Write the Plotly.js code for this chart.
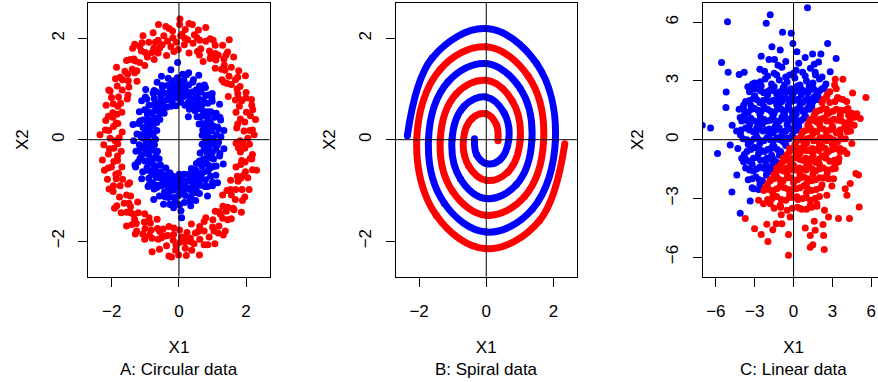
<!DOCTYPE html>
<html><head><meta charset="utf-8">
<script src="https://cdn.plot.ly/plotly-3.0.1.min.js"></script>
<style>html,body{margin:0;padding:0;overflow:hidden;background:#fff}#plot{width:890px;height:382px}</style>
</head><body><div id="plot"></div><script>
// ---------- Panel A: circular data (X1, X2 pairs) ----------
const circOuterRed = [
[2.05,0.03],[1.82,-0.02],[2.24,0.10],[1.94,0.17],[2.11,0.18],[1.72,0.23],[2.28,0.40],[1.96,0.35],[1.83,0.41],[2.13,0.47],[2.01,0.54],[1.70,0.54],[2.17,0.68],[1.80,0.66],[1.87,0.77],[1.99,0.82],[1.68,0.78],[2.00,0.93],[1.75,0.91],[1.47,0.85],[1.82,1.05],[1.98,1.26],[1.56,1.09],[1.68,1.18],[1.44,1.11],[1.78,1.36],[1.49,1.25],[1.56,1.43],[1.28,1.18],[1.63,1.63],[1.35,1.47],[1.27,1.39],[1.40,1.67],[1.34,1.59],[1.08,1.41],[1.30,1.86],[1.10,1.57],[1.08,1.70],[1.08,1.86],[0.93,1.60],[1.02,1.96],[0.91,1.75],[0.72,1.54],[0.80,1.94],[0.80,2.21],[0.65,1.79],[0.62,1.96],[0.55,1.74],[0.58,2.16],[0.42,1.90],[0.46,2.07],[0.30,1.71],[0.30,2.29],[0.26,1.97],[0.16,1.87],[0.19,2.17],[0.09,2.08],[1.50,1.97],
[-0.02,1.78],[0.02,2.27],[0.03,2.38],[-0.08,1.92],[-0.18,2.01],[-0.19,2.14],[-0.24,1.83],[-0.29,2.19],[-0.34,1.94],[-0.37,1.66],[-0.45,2.05],[-0.61,2.27],[-0.57,1.81],[-0.62,1.96],[-0.62,1.71],[-0.77,2.11],[-0.75,1.80],[-0.90,1.92],[-0.74,1.58],[-1.07,2.05],[-1.00,1.72],[-0.94,1.63],[-1.17,1.84],[-1.12,1.75],[-1.02,1.46],[-1.38,1.80],[-1.17,1.52],[-1.30,1.55],[-1.45,1.58],[-1.25,1.36],[-1.56,1.56],[-1.39,1.39],[-1.25,1.15],[-1.61,1.35],[-1.86,1.43],[-1.51,1.16],[-1.68,1.18],[-1.49,1.04],[-1.89,1.20],[-1.69,0.98],[-1.84,1.06],[-1.54,0.80],[-2.09,0.98],[-1.80,0.84],[-1.74,0.72],[-2.01,0.83],[-1.96,0.71],[-1.70,0.54],[-2.17,0.68],[-1.85,0.50],[-1.97,0.44],[-2.10,0.46],[-1.82,0.32],[-2.18,0.38],[-1.95,0.26],[-1.69,0.15],[-2.09,0.18],[-2.35,0.10],
[-1.90,-0.02],[-2.05,0.03],[-1.82,-0.08],[-2.24,-0.10],[-1.94,-0.17],[-2.10,-0.28],[-1.72,-0.23],[-2.28,-0.40],[-1.94,-0.43],[-1.83,-0.41],[-2.11,-0.56],[-2.01,-0.54],[-1.70,-0.54],[-2.13,-0.78],[-1.80,-0.66],[-1.87,-0.77],[-1.95,-0.91],[-1.68,-0.78],[-1.96,-1.02],[-1.75,-0.91],[-1.47,-0.85],[-1.77,-1.13],[-1.92,-1.35],[-1.56,-1.09],[-1.63,-1.25],[-1.44,-1.11],[-1.72,-1.44],[-1.44,-1.32],[-1.56,-1.43],[-1.23,-1.23],[-1.56,-1.70],[-1.35,-1.47],[-1.21,-1.44],[-1.40,-1.67],[-1.27,-1.65],[-1.02,-1.46],[-1.30,-1.86],[-1.03,-1.62],[-1.01,-1.75],[-1.08,-1.86],[-0.85,-1.64],[-1.02,-1.96],[-0.83,-1.78],[-0.65,-1.57],[-0.80,-1.94],[-0.80,-2.21],[-0.57,-1.81],[-0.62,-1.96],[-0.47,-1.76],[-0.58,-2.16],[-0.42,-1.90],[-0.37,-2.09],[-0.30,-1.71],[-0.30,-2.29],[-0.17,-1.98],[-0.16,-1.87],[-0.10,-2.18],[-0.09,-2.08],[-0.22,-2.31],
[0.02,-1.78],[-0.01,-2.27],[0.22,-2.28],[0.08,-1.92],[0.18,-2.01],[0.19,-2.14],[0.24,-1.83],[0.38,-2.18],[0.34,-1.94],[0.37,-1.66],[0.45,-2.05],[0.61,-2.27],[0.57,-1.81],[0.62,-1.96],[0.62,-1.71],[0.86,-2.07],[0.75,-1.80],[0.90,-1.92],[0.80,-1.54],[1.07,-2.05],[1.00,-1.72],[1.01,-1.58],[1.17,-1.84],[1.19,-1.70],[1.08,-1.41],[1.38,-1.80],[1.23,-1.47],[1.30,-1.55],[1.45,-1.58],[1.31,-1.31],[1.56,-1.56],[1.45,-1.33],[1.30,-1.09],[1.61,-1.35],[1.86,-1.43],[1.56,-1.09],[1.68,-1.18],[1.53,-0.98],[1.89,-1.20],[1.69,-0.98],[1.88,-0.98],[1.54,-0.80],[2.09,-0.98],[1.84,-0.76],[1.74,-0.72],[2.05,-0.75],[1.98,-0.63],[1.70,-0.54],[2.19,-0.59],[1.87,-0.41],[1.97,-0.44],[2.12,-0.37],[1.83,-0.24],[2.19,-0.29],[1.96,-0.17],[1.70,-0.07],[2.10,-0.09],[2.31,-0.60],
[1.90,-0.06],[2.19,0.19],[1.75,0.31],[2.20,0.59],[2.16,0.79],[1.77,0.82],[1.73,1.00],[1.75,1.23],[1.34,1.13],[1.37,1.37],[1.45,1.73],[1.17,1.67],[0.95,1.65],[0.93,1.99],[0.61,1.67],[0.54,2.01],[0.40,2.27],[0.17,2.00],[0.05,2.05],
[-0.15,1.74],[-0.39,2.23],[-0.50,1.87],[-0.70,1.92],[-0.80,1.72],[-1.10,1.91],[-1.32,1.88],[-1.34,1.59],[-1.32,1.32],[-1.53,1.29],[-1.75,1.23],[-1.52,0.88],[-2.05,0.96],[-1.82,0.66],[-1.97,0.53],[-1.87,0.33],[-2.19,0.19],[-1.78,0.04],
[-2.07,-0.18],[-1.83,-0.32],[-2.22,-0.60],[-1.88,-0.68],[-2.08,-0.97],[-1.52,-0.88],[-1.85,-1.30],[-1.49,-1.25],[-1.44,-1.44],[-1.32,-1.57],[-1.26,-1.80],[-0.89,-1.54],[-0.88,-1.88],[-0.64,-1.75],[-0.52,-1.93],[-0.33,-1.89],[-0.15,-1.74],[0.03,-2.02],
[0.17,-1.93],[0.35,-2.01],[0.49,-1.84],[0.75,-2.07],[0.75,-1.61],[1.04,-1.80],[1.32,-1.88],[1.20,-1.42],[1.41,-1.41],[1.64,-1.38],[1.43,-1.00],[1.96,-1.13],[1.76,-0.82],[1.92,-0.70],[1.84,-0.49],[2.17,-0.38],[1.77,-0.16]
];
const circInnerBlue = [
[1.02,0.02],[0.78,-0.03],[1.25,0.06],[0.92,0.04],[1.12,0.10],[0.69,0.09],[1.34,0.18],[0.97,0.17],[0.85,0.15],[1.15,0.25],[1.02,0.27],[0.71,0.19],[1.24,0.39],[0.86,0.27],[0.94,0.34],[1.06,0.44],[0.76,0.31],[1.11,0.52],[0.86,0.40],[0.60,0.31],[0.95,0.55],[1.21,0.70],[0.74,0.47],[0.86,0.55],[0.64,0.45],[0.99,0.76],[0.73,0.56],[0.86,0.72],[0.54,0.45],[0.99,0.91],[0.69,0.69],[0.61,0.61],[0.80,0.87],[0.72,0.78],[0.48,0.57],[0.79,1.03],[0.55,0.71],[0.57,0.82],[0.66,0.94],[0.44,0.69],[0.61,1.06],[0.48,0.82],[0.31,0.60],[0.51,0.98],[0.59,1.27],[0.34,0.81],[0.39,0.94],[0.27,0.73],[0.43,1.18],[0.28,0.88],[0.29,1.08],[0.18,0.68],[0.29,1.32],[0.21,0.96],[0.15,0.85],[0.15,1.17],[0.14,1.05],[0.06,0.74],[0.11,1.29],[0.04,0.90],[0.28,0.45],
[-0.02,1.00],[0.01,1.15],[-0.04,0.82],[-0.05,1.22],[-0.08,0.95],[-0.09,0.67],[-0.14,1.09],[-0.24,1.38],[-0.15,0.87],[-0.22,1.00],[-0.20,0.75],[-0.32,1.21],[-0.28,0.88],[-0.34,1.07],[-0.24,0.66],[-0.52,1.25],[-0.38,0.91],[-0.36,0.78],[-0.50,1.07],[-0.49,0.94],[-0.37,0.64],[-0.65,1.13],[-0.48,0.76],[-0.54,0.84],[-0.66,0.94],[-0.50,0.65],[-0.74,0.97],[-0.61,0.73],[-0.44,0.52],[-0.74,0.81],[-0.99,0.99],[-0.62,0.62],[-0.75,0.69],[-0.57,0.53],[-0.96,0.80],[-0.73,0.56],[-0.89,0.68],[-0.57,0.40],[-1.11,0.77],[-0.83,0.53],[-0.74,0.43],[-1.02,0.59],[-0.94,0.49],[-0.66,0.34],[-1.18,0.55],[-0.83,0.34],[-0.92,0.38],[-1.08,0.39],[-0.77,0.28],[-1.16,0.37],[-0.92,0.25],[-0.66,0.18],[-1.07,0.24],[-1.37,0.30],[-0.87,0.15],[-1.01,0.13],[-0.77,0.10],[-1.25,0.11],[-0.92,0.08],[-1.12,0.05],[-0.04,1.52],
[-0.70,0.01],[-1.35,-0.02],[-0.98,-0.04],[-0.86,-0.04],[-1.18,-0.10],[-1.05,-0.14],[-0.73,-0.10],[-1.28,-0.23],[-0.89,-0.16],[-0.98,-0.22],[-1.11,-0.30],[-0.79,-0.21],[-1.16,-0.37],[-0.91,-0.29],[-0.64,-0.23],[-1.02,-0.42],[-1.29,-0.54],[-0.80,-0.37],[-0.92,-0.43],[-0.69,-0.36],[-1.08,-0.63],[-0.80,-0.46],[-0.94,-0.60],[-0.59,-0.38],[-1.11,-0.77],[-0.78,-0.60],[-0.68,-0.52],[-0.90,-0.76],[-0.81,-0.68],[-0.55,-0.50],[-0.92,-0.92],[-0.64,-0.64],[-0.68,-0.74],[-0.78,-0.85],[-0.53,-0.63],[-0.74,-0.97],[-0.58,-0.75],[-0.39,-0.56],[-0.63,-0.90],[-0.75,-1.18],[-0.44,-0.76],[-0.51,-0.88],[-0.36,-0.69],[-0.58,-1.11],[-0.39,-0.83],[-0.43,-1.03],[-0.27,-0.65],[-0.46,-1.27],[-0.34,-0.92],[-0.26,-0.82],[-0.31,-1.14],[-0.27,-1.02],[-0.16,-0.72],[-0.28,-1.27],[-0.16,-0.89],[-0.13,-0.99],[-0.15,-1.14],[-0.07,-0.82],[-0.11,-1.22],[-0.04,-0.95],[-0.16,-1.34],[-1.31,-0.50],
[0.01,-0.68],[-0.01,-1.10],[0.06,-1.40],[0.04,-0.88],[0.09,-1.02],[0.10,-0.77],[0.16,-1.24],[0.16,-0.91],[0.19,-1.10],[0.15,-0.68],[0.35,-1.30],[0.25,-0.95],[0.26,-0.82],[0.36,-1.13],[0.36,-1.00],[0.28,-0.68],[0.50,-1.20],[0.38,-0.82],[0.42,-0.91],[0.53,-1.02],[0.41,-0.71],[0.61,-1.06],[0.51,-0.80],[0.37,-0.57],[0.63,-0.90],[0.85,-1.11],[0.54,-0.70],[0.66,-0.78],[0.50,-0.60],[0.85,-0.92],[0.65,-0.65],[0.79,-0.79],[0.52,-0.47],[1.00,-0.91],[0.75,-0.63],[0.68,-0.52],[0.94,-0.72],[0.87,-0.61],[0.61,-0.42],[1.10,-0.70],[0.78,-0.45],[0.87,-0.50],[1.02,-0.53],[0.73,-0.38],[1.11,-0.52],[0.88,-0.36],[0.63,-0.26],[1.03,-0.38],[1.32,-0.48],[0.84,-0.26],[0.99,-0.26],[0.75,-0.20],[1.22,-0.27],[0.90,-0.20],[1.10,-0.19],[0.69,-0.09],[1.34,-0.18],[0.98,-0.09],[0.86,-0.07],[1.18,-0.05],[0.08,-1.54],[1.15,-0.85],
[1.05,-0.08],[0.80,0.07],[1.18,0.21],[0.92,0.25],[1.22,0.44],[0.68,0.32],[0.87,0.50],[0.74,0.52],[0.98,0.82],[0.88,0.88],[0.55,0.65],[0.76,1.08],[0.53,0.91],[0.34,0.72],[0.41,1.13],[0.25,0.92],[0.23,1.28],[0.09,1.00],
[-0.03,1.10],[-0.08,0.90],[-0.21,1.16],[-0.26,0.97],[-0.29,0.80],[-0.49,1.04],[-0.53,0.91],[-0.46,0.66],[-0.77,0.92],[-0.67,0.67],[-1.00,0.84],[-0.61,0.43],[-0.95,0.55],[-0.82,0.38],[-0.94,0.34],[-1.21,0.32],[-0.84,0.15],[-1.15,0.10],[-1.05,0.03],
[-0.80,-0.07],[-1.18,-0.21],[-0.92,-0.25],[-1.22,-0.44],[-0.68,-0.32],[-0.95,-0.55],[-0.74,-0.52],[-0.77,-0.64],[-0.88,-0.88],[-0.55,-0.65],[-0.66,-0.94],[-0.53,-0.91],[-0.34,-0.72],[-0.41,-1.13],[-0.25,-0.92],[-0.23,-1.28],[-0.07,-0.75],
[0.02,-1.28],[0.08,-0.90],[0.17,-0.98],[0.32,-1.21],[0.29,-0.80],[0.49,-1.04],[0.53,-0.91],[0.46,-0.66],[0.77,-0.92],[0.67,-0.67],[1.00,-0.84],[0.61,-0.43],[0.95,-0.55],[0.82,-0.38],[0.94,-0.34],[1.21,-0.32],[0.84,-0.15],[1.15,-0.10]
];

// ---------- Panel B: spiral data (curve vertices) ----------
const spiralBlue = [
[-0.35,0.02],[-0.29,-0.29],[0,-0.47],[0.40,-0.40],[0.67,0],[0.53,0.53],[0,0.84],[-0.66,0.66],[-1.02,0],[-0.77,-0.77],[0,-1.16],[0.89,-0.89],[1.36,0],[1.01,1.01],[0,1.50],[-1.14,1.14],[-1.72,0],[-1.25,-1.25],[0,-1.82],[1.37,-1.37],[2.06,0],[1.50,1.50],[0,2.19],[-1.61,1.61],[-2.35,0.08]
];
const spiralRed = [
[0.35,-0.02],[0.30,0.30],[0,0.51],[-0.42,0.42],[-0.68,0],[-0.52,-0.52],[0,-0.80],[0.64,-0.64],[1.01,0],[0.77,0.77],[0,1.17],[-0.90,0.90],[-1.37,0],[-1.01,-1.01],[0,-1.49],[1.13,-1.13],[1.71,0],[1.25,1.25],[0,1.83],[-1.38,1.38],[-2.07,0],[-1.49,-1.49],[0,-2.15],[1.59,-1.59],[2.34,-0.08]
];

// ---------- Panel C: linear data ----------
const linBlue = [
[1.08,6.74],[-1.80,6.38],[-5.10,6.03],[-2.11,5.95],[-0.85,5.49],[-0.18,5.44],[-0.05,4.92],[2.63,4.92],[-1.67,4.75],[-1.03,4.58],[0.26,4.50],[-2.50,4.27],[1.47,4.38],[2.11,4.38],[3.29,4.15],[-5.56,3.95],[1.93,3.97],[-1.47,4.10],[-5.05,3.45],[-4.20,3.33],[-3.81,3.45],[-2.24,3.50],[2.83,3.47],[1.67,3.45],[-3.53,2.70],[-3.17,2.84],[-5.20,2.44],[-2.57,2.96],[2.37,2.67],[-5.22,1.64],[-3.86,1.76],[-6.41,0.60],[-4.74,0.74],[-4.12,1.13],[-7.05,0.74],[-5.87,-0.70],[-4.76,-2.67],[-4.12,-3.76],[-3.35,-3.13],[-4.38,-1.81],[-3.86,-1.13],[-4.89,-0.27],[-3.09,-2.50],
[-1.9,4.1],[-1.2,3.8],[-0.6,4.0],[0.4,3.9],[0.9,4.2],[1.6,3.85],
[-2.6,3.6],[-1.5,3.4],[-0.9,3.7],[-0.3,3.3],[0.2,3.55],[0.7,3.45],[1.3,3.65],[2.2,3.2],
[-3.0,2.9],[-2.2,3.1],[-1.7,2.85],[-1.1,3.05],[-0.5,2.95],[0.1,3.15],[0.5,2.8],[1.0,3.0],[1.5,2.9],[2.0,3.1],[2.5,2.85],
[-3.4,2.45],[-2.8,2.6],[-2.3,2.4],[-1.8,2.55],[-1.3,2.35],[-0.8,2.65],[-0.4,2.5],[0.0,2.4],[0.4,2.6],[0.9,2.45],[1.3,2.55],[1.8,2.35],[2.2,2.6],
[-3.7,1.95],[-3.1,2.1],[-2.6,1.9],[-2.1,2.05],[-1.6,2.0],[-1.1,1.85],[-0.7,2.15],[-0.2,1.95],[0.3,2.05],[0.7,1.9],[1.1,2.1],[1.5,1.95],[1.9,2.05],
[-4.2,1.55],[-3.5,1.4],[-3.0,1.6],[-2.5,1.45],[-2.0,1.55],[-1.5,1.35],[-1.0,1.6],[-0.6,1.5],[-0.1,1.4],[0.3,1.55],[0.7,1.45],[1.1,1.6],[1.4,1.75],
[-4.0,0.95],[-3.3,1.1],[-2.8,0.9],[-2.3,1.05],[-1.8,1.0],[-1.3,0.85],[-0.9,1.15],[-0.4,0.95],[0.0,1.05],[0.4,0.9],[0.8,1.1],
[-4.4,0.45],[-3.7,0.6],[-3.1,0.4],[-2.6,0.55],[-2.1,0.5],[-1.6,0.35],[-1.1,0.6],[-0.6,0.45],[-0.2,0.55],[0.25,0.5],
[-3.9,0.05],[-3.3,-0.1],[-2.8,0.1],[-2.3,-0.05],[-1.8,0.0],[-1.3,0.1],[-0.8,-0.1],[-0.35,0.05],
[-4.3,-0.45],[-3.6,-0.6],[-3.0,-0.4],[-2.5,-0.55],[-2.0,-0.5],[-1.5,-0.35],[-1.0,-0.6],
[-4.0,-0.95],[-3.4,-1.1],[-2.8,-0.9],[-2.3,-1.05],[-1.8,-1.0],[-1.3,-1.15],
[-3.7,-1.45],[-3.1,-1.6],[-2.6,-1.4],[-2.1,-1.55],[-1.7,-1.5],
[-3.5,-2.05],[-2.9,-1.9],[-2.4,-2.1],[-3.2,-2.45],[-2.7,-2.55],
[-2.5,2.75],[-1.5,2.7],[-0.7,2.8],[0.3,2.75],[1.2,2.7],
[-3.0,2.25],[-2.0,2.3],[-1.0,2.2],[-0.1,2.25],[0.6,2.3],[1.6,2.2],
[-3.3,1.75],[-2.3,1.7],[-1.3,1.8],[-0.4,1.75],[0.5,1.8],[1.2,1.7],
[-3.8,1.25],[-2.6,1.3],[-1.6,1.2],[-0.7,1.25],[0.2,1.3],[0.9,1.2],
[-3.4,0.75],[-2.4,0.8],[-1.4,0.7],[-0.5,0.75],[0.1,0.8],
[-4.1,0.25],[-2.9,0.3],[-1.9,0.2],[-0.9,0.25],[-0.1,0.2],
[-3.5,-0.25],[-2.6,-0.2],[-1.6,-0.3],[-0.6,-0.25],
[-3.8,-0.75],[-2.7,-0.7],[-1.7,-0.8],[-1.0,-0.75],
[-3.2,-1.25],[-2.1,-1.3],[-1.5,-1.2],
[-2.6,-2.3],[-2.1,-1.8],[-1.6,-1.3],[-1.1,-0.8],[-0.6,-0.3],[-0.1,0.2],[0.4,0.7],[0.9,1.2],[1.4,1.7],[1.9,2.2],[2.3,2.6],
[-2.0,3.25],[-1.3,3.3],[-0.6,3.2],[0.0,3.4],[0.9,3.25],[1.7,3.3],
[-3.1,2.6],[-2.55,2.5],[-2.05,2.45],[-1.55,2.5],[-1.05,2.45],[-0.6,2.4],[-0.2,2.6],[0.2,2.5],[0.65,2.55],[1.1,2.4],[1.55,2.6],[2.0,2.5],
[-3.4,2.0],[-2.85,2.05],[-2.35,2.0],[-1.85,1.95],[-1.35,2.05],[-0.9,1.95],[-0.45,2.05],[0.05,2.0],[0.5,1.95],[0.9,2.0],[1.3,1.9],[1.7,2.05],
[-3.8,1.5],[-3.25,1.55],[-2.75,1.5],[-2.25,1.6],[-1.75,1.45],[-1.25,1.55],[-0.8,1.45],[-0.35,1.6],[0.1,1.5],[0.5,1.6],[0.9,1.5],[1.25,1.55],
[-3.65,1.0],[-3.05,0.95],[-2.55,1.1],[-2.05,0.95],[-1.55,1.05],[-1.1,0.95],[-0.65,1.05],[-0.2,1.1],[0.2,1.0],[0.6,1.0],
[-4.05,0.5],[-3.4,0.5],[-2.85,0.6],[-2.35,0.45],[-1.85,0.55],[-1.35,0.5],[-0.85,0.4],[-0.4,0.6],[0.05,0.45],
[-3.6,0.0],[-3.05,0.05],[-2.55,-0.05],[-2.05,0.1],[-1.55,-0.05],[-1.05,0.0],[-0.55,0.1],
[-3.3,-0.5],[-2.75,-0.45],[-2.25,-0.6],[-1.75,-0.45],[-1.25,-0.5],
[-3.7,-1.0],[-3.1,-0.95],[-2.55,-1.05],[-2.05,-0.95],[-1.55,-1.0],
[-3.4,-1.55],[-2.85,-1.5],[-2.35,-1.45],[-1.9,-1.65],
[-3.2,-2.0],[-2.65,-2.05]
];
const linRed = [
[3.22,3.09],[3.81,3.09],[3.17,2.79],[4.56,2.39],[5.59,2.15],[3.40,2.15],[4.89,1.33],[5.15,1.08],[3.60,1.25],[4.68,0.74],[4.25,1.25],
[-3.73,-4.03],[-3.01,-4.55],[-2.50,-4.84],[-1.98,-5.20],[-2.06,-4.32],[-1.60,-4.60],[-1.34,-4.29],[-0.90,-4.29],[-0.39,-4.85],[-0.39,-5.91],[-0.95,-3.83],[1.29,-5.49],[1.49,-5.37],[2.37,-5.61],[1.29,-4.89],[0.90,-4.51],[1.60,-4.17],[2.32,-4.89],[2.27,-4.33],[1.67,-4.63],[3.47,-4.03],[4.32,-4.03],[2.70,-3.95],[5.07,-3.44],[2.39,-3.61],[4.12,-2.84],[3.99,-2.50],[4.38,-2.24],[4.81,-1.73],[5.02,-1.81],[3.22,-1.47],[3.47,-1.13],[3.60,-0.62],[4.12,-0.70],[4.50,-0.19],[1.80,-3.27],[1.29,-3.35],[0.51,-3.52],[0.26,-2.92],[-0.26,-3.95],[-1.03,-3.35],[-1.80,-3.27],[-2.32,-3.27],[-2.70,-3.10],[2.57,-2.84],[2.96,-2.36],[3.09,-2.00],
[2.8,2.45],[3.3,2.6],
[2.3,2.05],[2.8,1.9],[3.5,2.1],[4.1,1.95],
[1.8,1.45],[2.3,1.6],[2.8,1.4],[3.3,1.55],[3.9,1.5],[4.5,1.35],
[1.3,1.05],[1.8,0.9],[2.3,1.1],[2.8,0.95],[3.4,1.0],[4.0,0.85],[4.7,1.15],
[0.8,0.45],[1.3,0.6],[1.8,0.4],[2.3,0.55],[2.8,0.5],[3.3,0.35],[3.9,0.6],[4.4,0.45],
[0.3,0.05],[0.8,-0.1],[1.3,0.1],[1.8,-0.05],[2.3,0.0],[2.8,0.1],[3.4,-0.1],[4.0,0.05],
[-0.3,-0.45],[0.2,-0.6],[0.7,-0.4],[1.2,-0.55],[1.7,-0.5],[2.2,-0.35],[2.7,-0.6],[3.3,-0.45],[3.9,-0.55],
[-0.8,-0.95],[-0.3,-1.1],[0.2,-0.9],[0.7,-1.05],[1.2,-1.0],[1.7,-1.15],[2.2,-0.85],[2.8,-1.1],[3.5,-0.95],
[-1.3,-1.45],[-0.8,-1.6],[-0.3,-1.4],[0.2,-1.55],[0.7,-1.5],[1.2,-1.35],[1.7,-1.6],[2.3,-1.45],[3.0,-1.5],
[-1.8,-2.05],[-1.3,-1.9],[-0.8,-2.1],[-0.2,-1.95],[0.3,-2.05],[0.8,-1.9],[1.4,-2.1],[2.0,-1.95],[2.7,-2.0],
[-2.2,-2.45],[-1.6,-2.6],[-1.0,-2.4],[-0.4,-2.55],[0.2,-2.5],[0.8,-2.35],[1.4,-2.6],[2.1,-2.45],
[-2.0,-3.05],[-1.3,-2.9],[-0.6,-3.1],[0.0,-2.95],[0.7,-3.0],[1.3,-3.1],[2.0,-2.9],
[-1.5,-3.5],[-0.5,-3.6],[0.3,-3.45],[1.0,-3.55],[1.8,-3.4],
[1.6,1.25],[2.6,1.3],[3.6,1.2],
[1.1,0.75],[2.0,0.8],[3.0,0.7],[4.2,0.75],
[0.6,0.25],[1.5,0.3],[2.5,0.2],[3.6,0.25],
[0.1,-0.25],[1.0,-0.2],[2.0,-0.3],[3.0,-0.25],
[-0.5,-0.75],[0.5,-0.7],[1.5,-0.8],[2.5,-0.75],
[-1.0,-1.25],[0.0,-1.3],[1.0,-1.2],[2.0,-1.25],[3.2,-1.3],
[-1.5,-1.75],[-0.5,-1.7],[0.5,-1.8],[1.5,-1.75],[2.6,-1.7],
[-2.0,-2.25],[-1.0,-2.3],[0.0,-2.2],[1.0,-2.25],[2.2,-2.3],
[-1.6,-2.75],[-0.3,-2.8],[1.0,-2.7],
[-2.3,-2.6],[-1.8,-2.1],[-1.3,-1.6],[-0.8,-1.1],[-0.3,-0.6],[0.2,-0.1],[0.7,0.4],[1.2,0.9],[1.7,1.4],[2.2,1.9],[2.6,2.3],
[2.55,2.2],[3.2,1.95],[3.8,2.05],
[2.05,1.5],[2.55,1.55],[3.05,1.45],[3.6,1.5],[4.2,1.6],
[1.55,1.0],[2.05,1.05],[2.55,0.95],[3.1,1.05],[3.7,0.95],[4.35,1.0],
[1.05,0.5],[1.55,0.45],[2.05,0.6],[2.55,0.45],[3.05,0.55],[3.6,0.5],[4.15,0.4],
[0.55,0.0],[1.05,0.05],[1.55,-0.05],[2.05,0.1],[2.55,-0.05],[3.1,0.0],[3.7,0.05],
[-0.05,-0.5],[0.45,-0.45],[0.95,-0.55],[1.45,-0.45],[1.95,-0.55],[2.45,-0.45],[3.0,-0.5],[3.6,-0.45],
[-0.55,-1.0],[-0.05,-0.95],[0.45,-1.0],[0.95,-0.95],[1.45,-1.05],[1.95,-1.0],[2.5,-0.95],[3.15,-1.05],
[-1.05,-1.5],[-0.55,-1.45],[-0.05,-1.55],[0.45,-1.45],[0.95,-1.55],[1.45,-1.5],[2.0,-1.5],[2.65,-1.55],
[-1.55,-2.0],[-1.05,-2.05],[-0.5,-1.95],[0.05,-2.1],[0.55,-1.95],[1.1,-2.0],[1.7,-2.05],[2.35,-1.95],
[-1.9,-2.55],[-1.3,-2.5],[-0.7,-2.45],[-0.1,-2.55],[0.5,-2.45],[1.1,-2.5],[1.75,-2.55],
[-1.65,-3.0],[-0.95,-3.05],[-0.3,-2.95],[0.35,-3.05],[1.0,-2.95],[1.65,-3.0],
[-1.0,-3.45],[-0.1,-3.5],[0.65,-3.55],[1.4,-3.45]
];

// ---------- axes / labels ----------
const ticksAB = [-2, 0, 2];
const ticksC = [-6, -3, 0, 3, 6];
const rangeAB = [-2.7, 2.7];
const rangeC = [-7, 7];
const subtitles = ['A: Circular data', 'B: Spiral data', 'C: Linear data'];
const xTitle = 'X1', yTitle = 'X2';

const RED = '#FF0000', BLUE = '#0000FF';
const FONT = 'Liberation Sans, Arial, Helvetica, sans-serif';
const FS = 17;
const W = 890, H = 382;

function pts(arr, color, xa, ya) {
  return {type:'scatter', mode:'markers', x:arr.map(p=>p[0]), y:arr.map(p=>p[1]),
    xaxis:xa, yaxis:ya, marker:{color:color, size:7, line:{width:0}}, hoverinfo:'skip', showlegend:false};
}
function curve(arr, color, xa, ya) {
  return {type:'scatter', mode:'lines+markers', x:arr.map(p=>p[0]), y:arr.map(p=>p[1]),
    xaxis:xa, yaxis:ya, line:{color:color, width:7, shape:'spline', smoothing:1.1},
    marker:{color:color, size:7, line:{width:0}}, hoverinfo:'skip', showlegend:false};
}

const data = [
  pts(circOuterRed, RED, 'x', 'y'),
  pts(circInnerBlue, BLUE, 'x', 'y'),
  curve(spiralBlue, BLUE, 'x2', 'y2'),
  curve(spiralRed, RED, 'x2', 'y2'),
  pts(linBlue, BLUE, 'x3', 'y3'),
  pts(linRed, RED, 'x3', 'y3')
];

const left0 = 88.3, pw = 181.3, step = 307.3;
const yDom = [(H - 276.7) / H, (H - 2.7) / H];
const fmt = t => t < 0 ? '\u2212' + Math.abs(t) : String(t);

function xAxis(i, range, ticks) {
  const l = left0 + i * step;
  return {domain:[l / W, (l + pw) / W], range:range, tickvals:ticks, ticktext:ticks.map(fmt),
    ticks:'outside', ticklen:9, tickwidth:1, tickcolor:'#000', showline:true, mirror:true, linecolor:'#000', linewidth:1,
    showgrid:false, zeroline:false, fixedrange:true, ticklabelstandoff:10,
    tickfont:{family:FONT, size:FS, color:'#000'},
    title:{text:xTitle, font:{family:FONT, size:FS, color:'#000'}, standoff:21},
    anchor: i === 0 ? 'y' : 'y' + (i + 1)};
}
function yAxis(i, range, ticks) {
  return {domain:yDom, range:range, tickvals:ticks, ticktext:ticks.map(fmt),
    ticks:'outside', ticklen:9, tickwidth:1, tickcolor:'#000', showline:true, mirror:true, linecolor:'#000', linewidth:1,
    showgrid:false, zeroline:false, fixedrange:true, tickangle:-90, ticklabelstandoff:8,
    tickfont:{family:FONT, size:FS, color:'#000'},
    title:{text:yTitle, font:{family:FONT, size:FS, color:'#000'}, standoff:15},
    anchor: i === 0 ? 'x' : 'x' + (i + 1)};
}

const shapes = [];
const annotations = [];
['', '2', '3'].forEach((s, i) => {
  shapes.push({type:'line', xref:'x' + s, yref:'y' + s + ' domain', x0:0, x1:0, y0:0, y1:1, line:{color:'#000', width:1}, layer:'above'});
  shapes.push({type:'line', xref:'x' + s + ' domain', yref:'y' + s, x0:0, x1:1, y0:0, y1:0, line:{color:'#000', width:1}, layer:'above'});
  annotations.push({text:subtitles[i], xref:'x' + s + ' domain', x:0.5, xanchor:'center', yref:'paper', y:(H - 369) / H, yanchor:'middle',
    showarrow:false, font:{family:FONT, size:FS, color:'#000'}});
});

const layout = {
  width:W, height:H, margin:{l:0, r:0, t:0, b:0}, paper_bgcolor:'#fff', plot_bgcolor:'#fff',
  font:{family:FONT, size:FS, color:'#000'}, showlegend:false,
  xaxis:xAxis(0, rangeAB, ticksAB), yaxis:yAxis(0, rangeAB, ticksAB),
  xaxis2:xAxis(1, rangeAB, ticksAB), yaxis2:yAxis(1, rangeAB, ticksAB),
  xaxis3:xAxis(2, rangeC, ticksC), yaxis3:yAxis(2, rangeC, ticksC),
  shapes:shapes, annotations:annotations
};
Plotly.newPlot('plot', data, layout, {staticPlot:true, displayModeBar:false});
</script></body></html>
